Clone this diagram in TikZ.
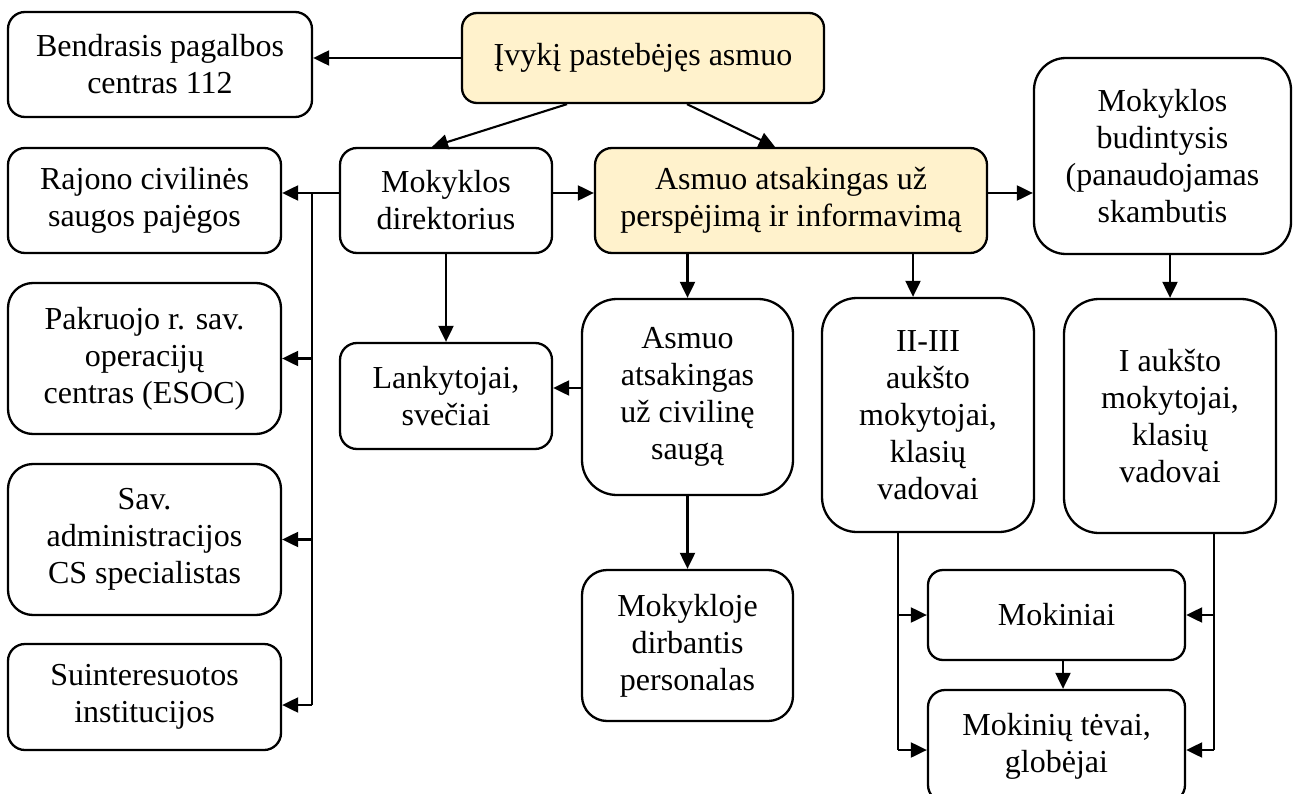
\documentclass[tikz,border=0pt]{standalone}
\usepackage{fontspec}
\setmainfont{Liberation Serif}
\usetikzlibrary{arrows.meta}
\definecolor{hlyellow}{HTML}{FFF2CC}

\begin{document}
\begin{tikzpicture}[x=1pt, y=-1pt,
        box/.style={draw, line width=2.3pt, rounded corners=#1, align=center,
            inner sep=0pt, font=\fontsize{32}{37}\selectfont},
        box/.default=17pt,
        hl/.style={fill=hlyellow},
        ln/.style={line width=2.1pt},
        arr/.style={line width=2.1pt, -{Triangle[length=16pt,width=15pt]}}]

            \useasboundingbox (0,0) rectangle (1300,794);

            % Define the top row
            \node[box=15pt, hl, minimum width=362pt, minimum height=90pt] (ivyk) at (643,58) {Įvykį pastebėjęs asmuo};
            \node[box, minimum width=304pt, minimum height=105pt] (bendr) at (160,64.5) {Bendrasis pagalbos\\centras 112};
            \node[box=32pt, minimum width=257pt, minimum height=196pt] (budint) at (1162.5,156) {Mokyklos\\budintysis\\(panaudojamas\\skambutis};

            % Define the second row
            \node[box, minimum width=273pt, minimum height=105pt] (rajon) at (144.5,200.5) {Rajono civilinės\\saugos pajėgos};
            \node[box, minimum width=212pt, minimum height=105pt] (direkt) at (446,200.5) {Mokyklos\\direktorius};
            \node[box, hl, minimum width=392pt, minimum height=105pt] (perspej) at (791,200.5) {Asmuo atsakingas už\\perspėjimą ir informavimą};

            % Define the left column
            \node[box=25pt, minimum width=273pt, minimum height=151pt] (pakr) at (144.5,358.5) {Pakruojo r. sav.\\operacijų\\centras (ESOC)};
            \node[box=25pt, minimum width=273pt, minimum height=151pt] (sav) at (144.5,539.5) {Sav.\\administracijos\\CS specialistas};
            \node[box, minimum width=273pt, minimum height=106pt] (suint) at (144.5,697) {Suinteresuotos\\institucijos};

            % Define the middle boxes
            \node[box, minimum width=212pt, minimum height=106pt] (lank) at (446,396) {Lankytojai,\\svečiai};
            \node[box=35pt, minimum width=211pt, minimum height=196pt] (civsaug) at (687.5,397) {Asmuo\\atsakingas\\už civilinę\\saugą};
            \node[box=25pt, minimum width=211pt, minimum height=151pt] (mokykl) at (687.5,645.5) {Mokykloje\\dirbantis\\personalas};

            % Define the teachers and pupils
            \node[box=35pt, minimum width=212pt, minimum height=234pt] (aukst23) at (928,415) {II-III\\aukšto\\mokytojai,\\klasių\\vadovai};
            \node[box=35pt, minimum width=212pt, minimum height=234pt] (aukst1) at (1170,416) {I aukšto\\mokytojai,\\klasių\\vadovai};
            \node[box=15pt, minimum width=257pt, minimum height=90pt] (mokin) at (1056.5,615) {Mokiniai};
            \node[box=17pt, minimum width=257pt, minimum height=112pt] (tevai) at (1056.5,746) {Mokinių tėvai,\\globėjai};

            % Add the arrows from the top
            \draw[arr] (ivyk.west) -- (ivyk.west -| bendr.east);
            \draw[arr] ([xshift=-76pt]ivyk.south) -- ([xshift=-14pt]direkt.north);
            \draw[arr] ([xshift=44pt]ivyk.south) -- ([xshift=-16pt]perspej.north);
            \draw[arr] ([yshift=7.5pt]direkt.east) -- ([yshift=7.5pt]direkt.east -| perspej.west);
            \draw[arr] ([yshift=7.5pt]perspej.east) -- ([yshift=7.5pt]perspej.east -| budint.west);

            % Add the bus to the left column
            \coordinate (bus) at (312,193);
            \coordinate (busend) at (312,705);
            \draw[ln] (bus -| direkt.west) -- (bus) -- (busend);
            \draw[arr] (bus) -- (bus -| rajon.east);
            \draw[arr] (bus |- pakr.east) -- (pakr.east);
            \draw[arr] (bus |- sav.east) -- (sav.east);
            \draw[arr] (busend) -- (busend -| suint.east);

            % Add the arrows to the middle boxes
            \draw[arr] (direkt.south) -- (lank.north);
            \draw[arr] ([yshift=9pt]civsaug.west) -- ([yshift=9pt]civsaug.west -| lank.east);
            \draw[arr] (civsaug.north |- perspej.south) -- (civsaug.north);
            \draw[arr] (civsaug.south) -- (mokykl.north);
            \draw[arr] ([xshift=-15pt]aukst23.north |- perspej.south) -- ([xshift=-15pt]aukst23.north);
            \draw[arr] (aukst1.north |- budint.south) -- (aukst1.north);

            % Add the lines to the pupils and parents
            \coordinate (lbus) at (898,750);
            \coordinate (rbus) at (1214,750);
            \draw[ln] (lbus |- aukst23.south) -- (lbus);
            \draw[ln] (rbus |- aukst1.south) -- (rbus);
            \draw[arr] (lbus |- mokin.west) -- (mokin.west);
            \draw[arr] (lbus) -- (lbus -| tevai.west);
            \draw[arr] (rbus |- mokin.east) -- (mokin.east);
            \draw[arr] (rbus) -- (rbus -| tevai.east);
            \draw[arr] ([xshift=6.5pt]mokin.south) -- ([xshift=6.5pt]tevai.north);
        \end{tikzpicture}
\end{document}
